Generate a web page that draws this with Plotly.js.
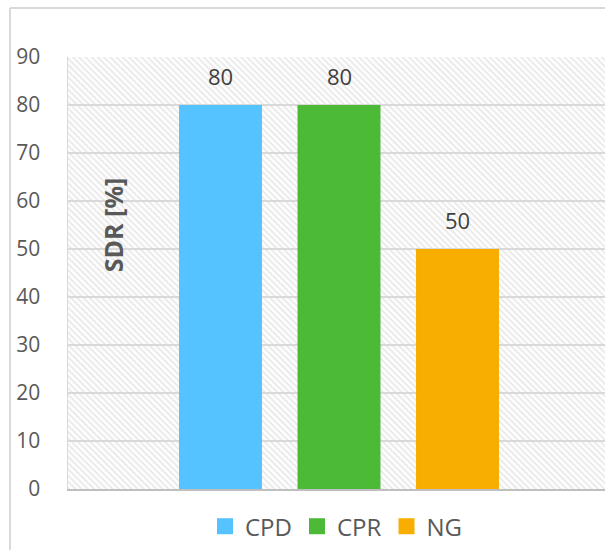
<!DOCTYPE html>
<html>
<head>
<meta charset="utf-8">
<script src="https://cdn.plot.ly/plotly-3.0.1.min.js"></script>
<style>html,body{margin:0;padding:0;background:#fff;}#chart{width:605px;height:550px;}</style>
</head>
<body>
<div id="chart"></div>
<script>
// Data
const categories = ["CPD", "CPR", "NG"];
const values = [80, 80, 50];
const colors = ["#55C3FF", "#4CB937", "#F7AE00"];
const yTickVals = [0, 10, 20, 30, 40, 50, 60, 70, 80, 90];
const yTitle = "SDR [%]";

const W = 605, H = 550;
const M = {l: 68, r: 0, t: 57, b: 61};
const pw = W - M.l - M.r, ph = H - M.t - M.b;

// hatched plot background
const hatch = `<svg xmlns="http://www.w3.org/2000/svg" width="${pw}" height="${ph}">` +
  `<defs><pattern id="p" width="8" height="4.4" patternUnits="userSpaceOnUse" patternTransform="rotate(45)">` +
  `<rect width="8" height="2.1" fill="#EBEBEB"/></pattern></defs>` +
  `<rect width="${pw}" height="${ph}" fill="#FFFFFF"/><rect width="${pw}" height="${ph}" fill="url(#p)"/></svg>`;
const hatchURI = "data:image/svg+xml;base64," + btoa(hatch);

const traces = [];
categories.forEach((c, i) => {
  traces.push({
    type: "bar", x: [c], y: [values[i]], name: c,
    marker: {color: colors[i]}, showlegend: false, hoverinfo: "x+y"
  });
});
categories.forEach((c, i) => {
  traces.push({
    type: "scatter", mode: "markers", x: [null], y: [null], name: c,
    marker: {symbol: "square", size: 16, color: colors[i]}, showlegend: true
  });
});

const annotations = categories.map((c, i) => ({
  x: c, y: values[i], xref: "x", yref: "y", text: String(values[i]),
  showarrow: false, yanchor: "bottom", yshift: 12,
  font: {family: "Open Sans", size: 22, color: "#404040"}
}));
annotations.push({
  xref: "paper", yref: "paper", x: 0.084, y: 0.611, text: "<b>" + yTitle + "</b>",
  showarrow: false, textangle: -90, xanchor: "center", yanchor: "middle",
  font: {family: "Open Sans", size: 25, color: "#595959"}
});

// category spacing: 118.5px per category, first centre at 220.5px
const step = 118.5;
const x0 = -(220.5 - M.l) / step;
const x1 = x0 + pw / step;

const layout = {
  width: W, height: H,
  margin: M,
  paper_bgcolor: "#FFFFFF", plot_bgcolor: "rgba(0,0,0,0)",
  barmode: "overlay",
  bargap: 0.3,
  font: {family: "Open Sans", color: "#595959"},
  xaxis: {
    type: "category", range: [x0, x1], showticklabels: false, ticks: "",
    showgrid: false, zeroline: false, showline: true, linecolor: "#BFBFBF", linewidth: 1.5, fixedrange: true
  },
  yaxis: {
    range: [0, 90], tickvals: yTickVals, ticktext: yTickVals.map(String),
    showgrid: true, gridcolor: "#D9D9D9", gridwidth: 1.5, zeroline: false,
    showline: true, linecolor: "#D9D9D9", linewidth: 1.5, ticks: "",
    ticklabelstandoff: 22,
    tickfont: {family: "Open Sans", size: 21, color: "#595959"}, fixedrange: true
  },
  showlegend: true,
  legend: {
    orientation: "h", x: 0.5, xanchor: "center", y: -0.035, yanchor: "top",
    font: {family: "Open Sans", size: 24, color: "#595959"},
    bgcolor: "rgba(0,0,0,0)"
  },
  annotations: annotations,
  images: [{
    source: hatchURI, xref: "paper", yref: "paper", x: 0, y: 1, sizex: 1, sizey: 1,
    sizing: "stretch", xanchor: "left", yanchor: "top", layer: "below"
  }],
  shapes: [
    {type: "line", xref: "paper", yref: "paper", x0: (10 - M.l) / pw, x1: (10 - M.l) / pw,
     y0: (ph + M.t - 8) / ph, y1: -(M.b + 20) / ph, line: {color: "#D9D9D9", width: 2}},
    {type: "line", xref: "paper", yref: "paper", x0: (10 - M.l) / pw, x1: 1.05,
     y0: (ph + M.t - 8) / ph, y1: (ph + M.t - 8) / ph, line: {color: "#D9D9D9", width: 2}}
  ]
};

Plotly.newPlot("chart", traces, layout, {displayModeBar: false, staticPlot: true});
</script>
</body>
</html>
